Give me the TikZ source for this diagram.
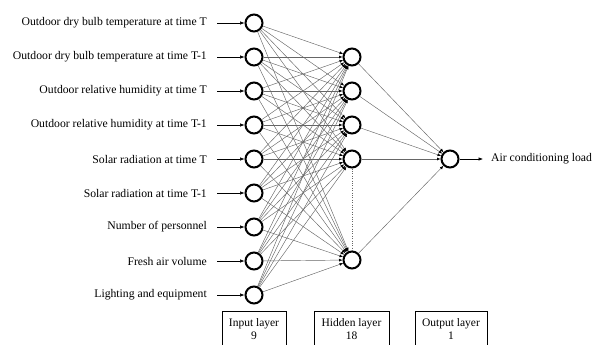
\documentclass[tikz,border=0pt]{standalone}
\usepackage{fontspec}
\setmainfont{Liberation Serif}
\usetikzlibrary{arrows.meta}
\begin{document}
\begin{tikzpicture}[x=1pt,y=-1pt,
    neuron/.style ={circle, draw, line width=2pt, minimum size=17pt, inner sep=0pt},
    feature/.style ={anchor=east, inner xsep=0pt, font=\fontsize{11.7}{13}\selectfont},
    layerbox/.style ={draw, thin, align=center, anchor=north, minimum height=36pt, inner sep=0pt, font=\fontsize{11.5}{13}\selectfont},
    link/.style ={draw=black!60, line width=0.45pt, -{Latex[black,length=3.5pt,width=3pt]}},
    feed/.style ={line width=0.6pt, -{Latex[length=4.5pt,width=3.5pt]}}]
   \useasboundingbox (0,0) rectangle (600,345);

   % input layer
   \node[neuron] (I1) at (254,23)  {};
   \node[neuron] (I2) at (254,57)  {};
   \node[neuron] (I3) at (254,91)  {};
   \node[neuron] (I4) at (254,125) {};
   \node[neuron] (I5) at (254,159) {};
   \node[neuron] (I6) at (254,193) {};
   \node[neuron] (I7) at (254,227) {};
   \node[neuron] (I8) at (254,261) {};
   \node[neuron] (I9) at (254,295) {};

   \node[feature] (F1) at (207,23)  {Outdoor dry bulb temperature at time T};
   \node[feature] (F2) at (207,57)  {Outdoor dry bulb temperature at time T-1};
   \node[feature] (F3) at (207,91)  {Outdoor relative humidity at time T};
   \node[feature] (F4) at (207,125) {Outdoor relative humidity at time T-1};
   \node[feature] (F5) at (207,159) {Solar radiation at time T};
   \node[feature] (F6) at (207,193) {Solar radiation at time T-1};
   \node[feature] (F7) at (207,227) {Number of personnel};
   \node[feature] (F8) at (207,261) {Fresh air volume};
   \node[feature] (F9) at (207,295) {Lighting and equipment};

   % hidden layer
   \node[neuron] (H1) at (352,57)  {};
   \node[neuron] (H2) at (352,91)  {};
   \node[neuron] (H3) at (352,125) {};
   \node[neuron] (H4) at (352,159) {};
   \node[neuron] (H5) at (352,260) {};

   % output layer
   \node[neuron] (O) at (450,159) {};
   \coordinate (tip) at (483,159);
   \node[anchor=west, inner sep=0pt, font=\fontsize{11.7}{13}\selectfont] (load) at (491,159) {Air conditioning load};

   \foreach \i in {1,...,9}
      \draw[feed] ([xshift=10pt]F\i.east) -- (I\i);
   \foreach \i in {1,...,9}
      \foreach \j in {1,...,5}
         \draw[link] (I\i) -- (H\j);
   \foreach \j in {1,...,5}
      \draw[link] (H\j) -- (O);
   \draw[dotted, black!60] (H4) -- (H5);
   \draw[feed] (O) -- (tip);

   % layer boxes
   \node[layerbox, minimum width=64pt] (inbox)  at (254,311)   {Input layer\\9};
   \node[layerbox, minimum width=75pt] (hidbox) at (351.5,311) {Hidden layer\\18};
   \node[layerbox, minimum width=72pt] (outbox) at (451,311)   {Output layer\\1};
 \end{tikzpicture}
\end{document}
